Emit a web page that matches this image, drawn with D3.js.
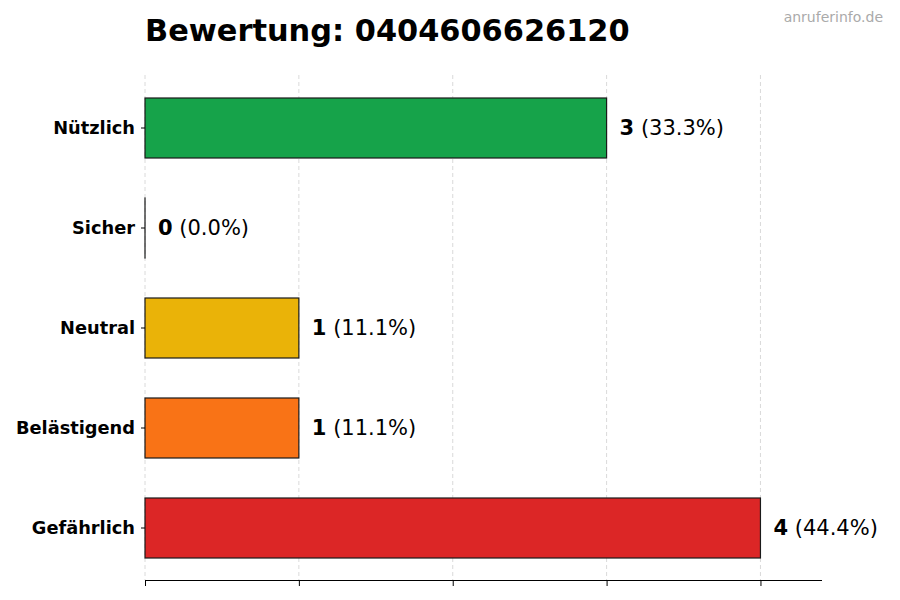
<!DOCTYPE html>
<html><head><meta charset="utf-8">
<script src="https://cdn.jsdelivr.net/npm/d3@7"></script>
<style>body{margin:0;background:#fff}svg{font-family:"DejaVu Sans",sans-serif}</style>
</head><body>
<svg id="c" width="900" height="600"></svg>
<script>
const categories = ["Nützlich","Sicher","Neutral","Belästigend","Gefährlich"];
const counts = [3,0,1,1,4];
const percents = ["33.3%","0.0%","11.1%","11.1%","44.4%"];
const colors = ["#16a34a","#3b82f6","#eab308","#f97316","#dc2626"];
const xTicks = [0,1,2,3,4];
const titleText = "Bewertung: 0404606626120";
const watermark = "anruferinfo.de";

(function(){
const svg = d3.select("#c");
const mLeft = 145, mRight = 822, mTop = 78, mBottom = 578, axisY = 580;
const x = d3.scaleLinear().domain([0,4.4]).range([mLeft,mRight]);
const y = d3.scaleBand().domain(categories).range([mTop,mBottom]).paddingInner(0.4).paddingOuter(0.2);

svg.append("g").selectAll("line").data(xTicks).join("line")
  .attr("x1",d=>x(d)).attr("x2",d=>x(d)).attr("y1",75).attr("y2",axisY)
  .attr("stroke","#d0d0d0").attr("stroke-width",0.8).attr("stroke-dasharray","4,3");

svg.append("g").selectAll("rect").data(categories).join("rect")
  .attr("x",x(0)).attr("y",d=>y(d)).attr("height",y.bandwidth())
  .attr("width",(d,i)=>Math.max(x(counts[i])-x(0),0.01))
  .attr("fill",(d,i)=>colors[i]).attr("stroke","#1a1a1a").attr("stroke-width",1.2);

const lab = svg.append("g").selectAll("text").data(categories).join("text")
  .attr("x",(d,i)=>x(counts[i])+13).attr("y",d=>y(d)+y.bandwidth()/2)
  .attr("dy","0.35em").attr("font-size","21px").attr("fill","#000");
lab.append("tspan").attr("font-weight","bold").text((d,i)=>counts[i]);
lab.append("tspan").text((d,i)=>" ("+percents[i]+")");

const ya = svg.append("g").attr("transform",`translate(${mLeft},0)`)
  .call(d3.axisLeft(y).tickSize(4).tickPadding(6));
ya.select(".domain").remove();
ya.selectAll("text").attr("font-size","17.8px").attr("font-weight","bold")
  .attr("font-family","DejaVu Sans").attr("fill","#000");
ya.selectAll("line").attr("stroke","#000");

const xa = svg.append("g").attr("transform",`translate(0,${axisY})`)
  .call(d3.axisBottom(x).tickValues(xTicks).tickSize(6).tickFormat(""));
xa.select(".domain").attr("d",`M${mLeft},0.5H${mRight}`).attr("stroke","#000").attr("stroke-width",1.2);
xa.selectAll("line").attr("stroke","#000");

svg.append("text").attr("x",145).attr("y",41).attr("font-size","30.4px").attr("font-weight","bold")
  .attr("fill","#000").text(titleText);
svg.append("text").attr("x",883).attr("y",22).attr("text-anchor","end").attr("font-size","14px")
  .attr("fill","#aaaaaa").text(watermark);
})();
</script>
</body></html>
